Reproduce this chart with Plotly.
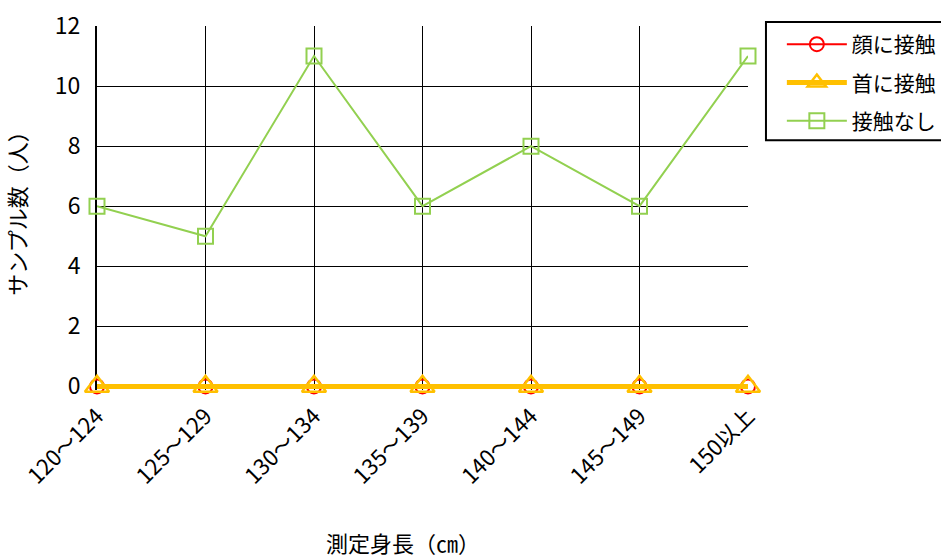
import plotly.graph_objects as go

categories = ["120～124", "125～129", "130～134", "135～139", "140～144", "145～149", "150以上"]
face_contact = [0, 0, 0, 0, 0, 0, 0]
neck_contact = [0, 0, 0, 0, 0, 0, 0]
no_contact = [6, 5, 11, 6, 8, 6, 11]
y_ticks = [0, 2, 4, 6, 8, 10, 12]

FONT = "Noto Sans CJK JP"
xpos = list(range(len(categories)))

# plot area: 0..12 spans 360 px; a small pad below zero keeps the thick line unclipped
Y_PAD = 0.12
PX_PER_UNIT = 30
pad_px = Y_PAD * PX_PER_UNIT

fig = go.Figure()
fig.add_trace(go.Scatter(
    x=xpos, y=face_contact, name="顔に接触", mode="lines+markers",
    legendgroup="face", cliponaxis=False,
    line=dict(color="#FF0000", width=2),
    marker=dict(symbol="circle-open", size=14, color="#FF0000", line=dict(width=2)),
))
fig.add_trace(go.Scatter(
    x=xpos, y=neck_contact, name="首に接触", mode="lines+markers",
    legendgroup="neck", cliponaxis=False,
    line=dict(color="#FFC000", width=5),
    marker=dict(symbol="triangle-up-open", size=21, color="#FFC000", line=dict(width=2.5)),
))
fig.add_trace(go.Scatter(
    x=xpos, y=no_contact, name="接触なし", mode="lines+markers",
    legendgroup="none", cliponaxis=False,
    line=dict(color="#92D050", width=2),
    marker=dict(symbol="square-open", size=15, color="#92D050", line=dict(width=2)),
))

plot_h = 360 + pad_px

def py(pix):
    # pixel row -> paper y
    return (386 + pad_px - pix) / plot_h

# legend frame
fig.add_shape(
    type="rect", xref="paper", yref="paper",
    x0=1.0276, x1=1.31, y0=py(140), y1=py(22),
    line=dict(color="black", width=2), fillcolor="rgba(0,0,0,0)", layer="above",
)

# x-axis title
fig.add_annotation(
    text="測定身長（㎝）", xref="paper", yref="paper", x=0.47, y=py(541),
    xanchor="center", yanchor="middle", showarrow=False,
    font=dict(size=22, family=FONT, color="black"),
)

fig.update_layout(
    width=941, height=559,
    margin=dict(l=97, r=193, t=26, b=173 - pad_px, autoexpand=False),
    paper_bgcolor="white", plot_bgcolor="white",
    font=dict(family=FONT, color="black", size=20),
    showlegend=True,
    legend=dict(
        x=1.052, y=py(24), xanchor="left", yanchor="top",
        borderwidth=0, bgcolor="rgba(0,0,0,0)",
        font=dict(size=21, family=FONT), itemwidth=60,
        tracegroupgap=8,
    ),
    xaxis=dict(
        range=[0, 6], tickmode="array", tickvals=xpos, ticktext=categories,
        tickangle=-45, showgrid=True, gridcolor="black", gridwidth=1,
        zeroline=False, showline=False, ticks="",
        tickfont=dict(size=22, family=FONT), ticklabelstandoff=8,
        automargin=False, layer="below traces",
    ),
    yaxis=dict(
        range=[-Y_PAD, 12], tickmode="array", tickvals=y_ticks,
        showgrid=True, gridcolor="black", gridwidth=1,
        zeroline=False, showline=True, linecolor="black", linewidth=2,
        mirror=False, ticks="", ticklen=0, tickfont=dict(size=23, family=FONT),
        ticklabelstandoff=10, automargin=False, layer="below traces",
        title=dict(text="サンプル数（人）", font=dict(size=22, family=FONT), standoff=22),
    ),
)

fig.write_html("out.html")
